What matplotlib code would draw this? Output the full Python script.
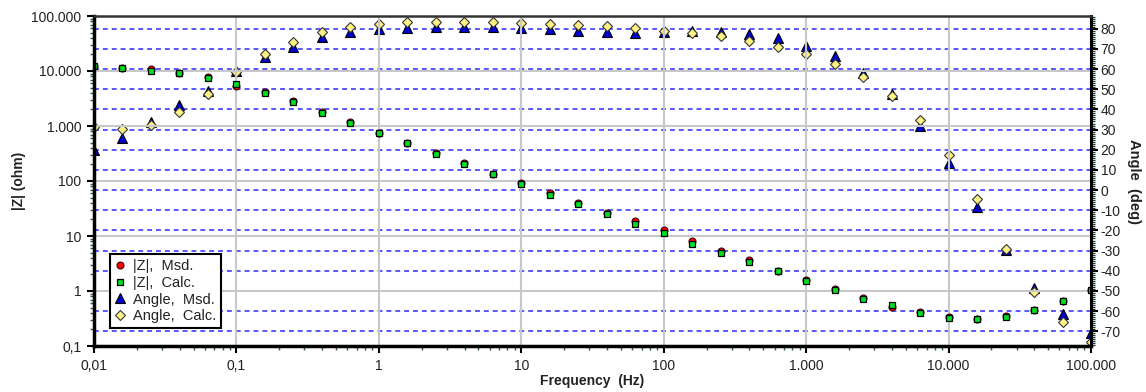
import matplotlib
matplotlib.use('Agg')
import matplotlib.pyplot as plt
from matplotlib.ticker import FixedLocator, FixedFormatter, NullFormatter, LogLocator, MultipleLocator

plt.rcParams['font.family'] = ['Liberation Sans', 'DejaVu Sans']
plt.rcParams['axes.unicode_minus'] = False

# ---------------- data ----------------
freq = [0.01, 0.01585, 0.02512, 0.03981, 0.0631,
        0.1, 0.1585, 0.2512, 0.3981, 0.631,
        1.0, 1.585, 2.512, 3.981, 6.31,
        10.0, 15.85, 25.12, 39.81, 63.1,
        100.0, 158.5, 251.2, 398.1, 631.0,
        1000.0, 1585.0, 2512.0, 3981.0, 6310.0,
        10000.0, 15850.0, 25120.0, 39810.0, 63100.0,
        100000.0]

z_msd = [12300, 11300, 11000, 9200, 7700,
         5300, 4100, 2800, 1780, 1160,
         760, 490, 318, 210, 136,
         92, 60, 40, 26.5, 18.5,
         12.9, 8.0, 5.3, 3.6, 2.35,
         1.57, 1.07, 0.74, 0.52, 0.41,
         0.33, 0.31, 0.345, 0.46, 0.66,
         1.03]

z_calc = [12300, 11200, 10100, 9100, 7600,
          5900, 4000, 2730, 1750, 1140,
          750, 485, 315, 207, 134,
          88, 56, 38.6, 25.0, 16.3,
          11.2, 7.3, 5.0, 3.4, 2.3,
          1.54, 1.06, 0.73, 0.55, 0.40,
          0.32, 0.31, 0.33, 0.45, 0.66,
          1.03]

angle_msd = [19.8, 25.6, 33.9, 42.0, 49.3,
             59.0, 66.1, 71.1, 75.7, 78.2,
             79.9, 80.5, 81.0, 81.0, 81.0,
             80.4, 79.9, 78.7, 78.2, 78.0,
             78.2, 78.9, 78.5, 77.2, 75.4,
             71.6, 66.5, 58.0, 47.5, 32.0,
             13.2, -8.6, -29.5, -48.3, -61.2,
             -70.8]

angle_calc = [31.4, 30.4, 32.2, 38.5, 47.5,
              58.5, 67.5, 73.6, 78.2, 80.7,
              82.2, 83.2, 83.2, 83.2, 83.2,
              82.7, 82.2, 81.7, 81.2, 80.4,
              79.0, 77.9, 76.4, 73.7, 71.1,
              67.5, 62.7, 56.0, 46.8, 34.7,
              17.5, -4.5, -29.4, -50.6, -65.5,
              -75.2]

x_ticks = [0.01, 0.1, 1, 10, 100, 1000, 10000, 100000]
x_tick_labels = ['0,01', '0,1', '1', '10', '100', '1.000', '10.000', '100.000']
z_ticks = [0.1, 1, 10, 100, 1000, 10000, 100000]
z_tick_labels = ['0,1', '1', '10', '100', '1.000', '10.000', '100.000']
angle_ticks = [-70, -60, -50, -40, -30, -20, -10, 0, 10, 20, 30, 40, 50, 60, 70, 80]
angle_tick_labels = [str(a) for a in angle_ticks]

legend_labels = ['|Z|,  Msd.', '|Z|,  Calc.', 'Angle,  Msd.', 'Angle,  Calc.']

# ---------------- figure ----------------
W, H = 1146, 392
fig = plt.figure(figsize=(W / 100, H / 100), dpi=100)
ax = fig.add_axes([94 / W, 1 - 346 / H, 997 / W, 330 / H])
ax2 = ax.twinx()
ax.set_zorder(2)
ax2.set_zorder(1)
ax.patch.set_visible(False)

ax.set_xscale('log')
ax.set_yscale('log')
ax.set_xlim(0.01, 100000)
ax.set_ylim(0.1, 100000)
ax2.set_ylim(-77.3, 86.3)

# grids
ax.set_axisbelow(True)
ax.grid(True, which='major', axis='both', color='#c8c8c8', lw=1.5, ls='-')
ax2.set_axisbelow(True)
ax2.grid(True, which='major', axis='y', color='#2a2aff', lw=1.1, ls=(0, (3.2, 2.6)))

# angle data (lower axes)
l_am, = ax2.plot(freq, angle_msd, ls='none', marker='^', ms=6.8, mfc='#0000d0',
                 mec='black', mew=0.8)
l_ac, = ax2.plot(freq, angle_calc, ls='none', marker='D', ms=4.8, mfc='#fff285',
                 mec='#333333', mew=0.8)
# impedance data (upper axes)
l_zm, = ax.plot(freq, z_msd, ls='none', marker='o', ms=5, mfc='#ff0000',
                mec='#400000', mew=0.8)
l_zc, = ax.plot(freq, z_calc, ls='none', marker='s', ms=5, mfc='#00e020',
                mec='black', mew=0.9)

# ticks
ax.xaxis.set_major_locator(FixedLocator(x_ticks))
ax.xaxis.set_major_formatter(FixedFormatter(x_tick_labels))
ax.xaxis.set_minor_locator(LogLocator(base=10, subs=(2, 3, 4, 5, 6, 7, 8, 9), numticks=20))
ax.xaxis.set_minor_formatter(NullFormatter())
ax.yaxis.set_major_locator(FixedLocator(z_ticks))
ax.yaxis.set_major_formatter(FixedFormatter(z_tick_labels))
ax.yaxis.set_minor_locator(LogLocator(base=10, subs=(2, 3, 4, 5, 6, 7, 8, 9), numticks=20))
ax.yaxis.set_minor_formatter(NullFormatter())
ax2.yaxis.set_major_locator(FixedLocator(angle_ticks))
ax2.yaxis.set_major_formatter(FixedFormatter(angle_tick_labels))
ax2.yaxis.set_minor_locator(MultipleLocator(1))

ax.tick_params(which='major', direction='out', length=5, width=1.5, color='black',
               labelsize=10, labelcolor='#222222', pad=4)
ax.tick_params(which='minor', direction='out', length=3, width=1, color='#2a5a5a')
ax2.tick_params(which='major', direction='out', length=5, width=1.5, color='black',
                labelsize=10, labelcolor='#222222', pad=2)
ax2.tick_params(which='minor', direction='out', length=3, width=0.9, color='#1a3a3a')

# spines
for s in ax2.spines.values():
    s.set_visible(False)
ax.spines['left'].set_linewidth(2.5)
ax.spines['bottom'].set_linewidth(2.5)
ax.spines['right'].set_linewidth(2.2)
ax.spines['top'].set_linewidth(1.8)
ax.spines['top'].set_color('#333333')

# labels
ax.set_xlabel('Frequency  (Hz)', fontsize=10, fontweight='bold', color='#222222')
ax.xaxis.set_label_coords(0.5, -0.085)
ax.set_ylabel('|Z| (ohm)', fontsize=10, fontweight='bold', color='#222222')
ax.yaxis.set_label_coords(-0.068, 0.5)
ax2.set_ylabel('Angle  (deg)', fontsize=10.5, fontweight='bold', color='#222222',
               rotation=270, va='bottom')
ax2.yaxis.set_label_coords(1.036, 0.5)

# legend
leg = ax.legend([l_zm, l_zc, l_am, l_ac], legend_labels, loc='lower left',
                bbox_to_anchor=(0.016, 0.055), frameon=True, fancybox=False,
                edgecolor='black', framealpha=1, fontsize=10.5, handlelength=0.8,
                handletextpad=0.5, borderpad=0.3, labelspacing=0.2,
                borderaxespad=0)
leg.get_frame().set_linewidth(1.5)
for t in leg.get_texts():
    t.set_color('#222222')

fig.savefig('out.png', dpi=100)
